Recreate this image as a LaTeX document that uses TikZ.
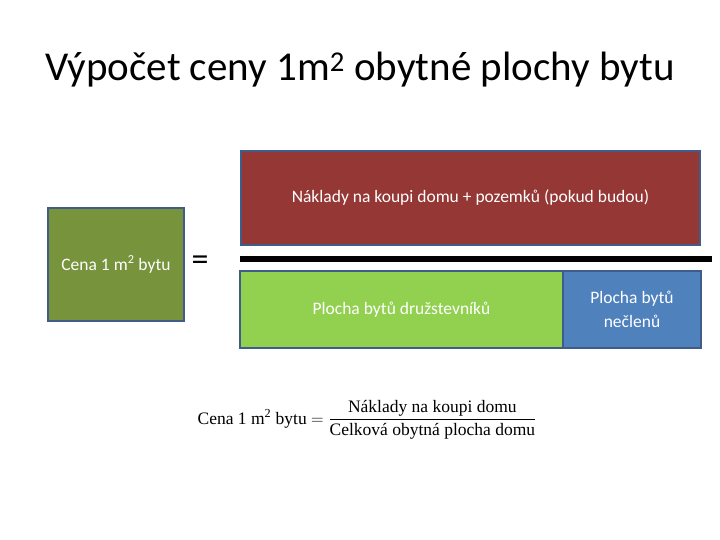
\documentclass[tikz,border=0pt]{standalone}
\usepackage{amsmath}
\usepackage{fontspec}
\setmainfont{Carlito}
\newfontfamily\formfont{Liberation Serif}
\definecolor{olive}{HTML}{77933C}
\definecolor{wine}{HTML}{953735}
\definecolor{lime}{HTML}{92D050}
\definecolor{steel}{HTML}{4F81BD}
\definecolor{edge}{HTML}{3F5C8A}
\tikzset{
  blk/.style={draw=edge,line width=2.5pt,text=white,align=center,font=\fontsize{17.5}{24}\selectfont},
}
\begin{document}
\begin{tikzpicture}[x=1pt,y=-1pt]
\useasboundingbox (0,0) rectangle (720,540);
\node (title) at (360,70) {\fontsize{41}{48}\selectfont Výpočet ceny 1m\textsuperscript{2} obytné plochy bytu};

\node[blk,fill=olive,minimum width=136pt,minimum height=113pt] (cena) at (116,264.5) {Cena 1 m\textsuperscript{2} bytu};
\node (eq) at (200,263) {\fontsize{34}{36}\selectfont =};

\node[blk,fill=wine,minimum width=459pt,minimum height=94pt] (naklady) at (470.5,198) {Náklady na koupi domu + pozemků (pokud budou)};
\coordinate (barL) at (240,259);
\coordinate (barR) at (712,259);
\draw[line width=6pt] (barL) -- (barR);

\node[blk,fill=lime,minimum width=323pt,minimum height=77pt] (druz) at (401.5,309.5) {Plocha bytů družstevníků};
\node[blk,fill=steel,minimum width=138pt,minimum height=77pt] (necl) at (632,309.5) {Plocha bytů\\nečlenů};

\node (vzorec) at (367,420) {\formfont\fontsize{17.5}{21}\selectfont Cena 1 m\textsuperscript{2} bytu
  $=\dfrac{\text{\formfont Náklady na koupi domu}}{\text{\formfont Celková obytná plocha domu}}$};
\end{tikzpicture}
\end{document}
